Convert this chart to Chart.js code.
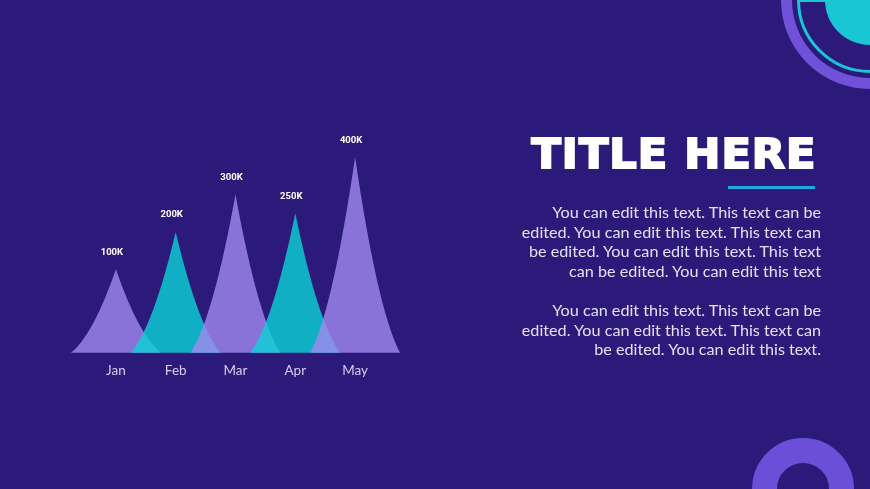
<!DOCTYPE html>
<html>
<head>
<meta charset="utf-8">
<script src="https://cdn.jsdelivr.net/npm/chart.js@4"></script>
<style>
  body { margin: 0; }
  #slide { position: relative; width: 870px; height: 489px; overflow: hidden; background: #2c1a7a; font-family: Lato, "Open Sans", sans-serif; }
  #chartBox { position: absolute; left: 0; top: 0; width: 870px; height: 489px; }
  .ring { position: absolute; border-radius: 50%; box-sizing: border-box; }
  #title { position: absolute; right: 54px; top: 134px; color: #fff; font-family: "DejaVu Sans", sans-serif; font-size: 41px; font-weight: bold; line-height: 41px; letter-spacing: 1px; white-space: nowrap; -webkit-text-stroke: 2px #fff; transform-origin: right center; transform: scaleX(1.05); }
  #rule { position: absolute; left: 728px; top: 186px; width: 87px; height: 3px; background: #1ea9e0; }
  .body { position: absolute; right: 49px; color: #e4e0f6; font-size: 16.2px; line-height: 19.5px; text-align: right; white-space: nowrap; }
</style>
</head>
<body>
<div id="slide">
  <!-- corner shapes -->
  <div class="ring" style="left:781px;top:-89px;width:178px;height:178px;border:11px solid #6f52d9"></div>
  <div class="ring" style="left:797px;top:-73px;width:146px;height:146px;border:3px solid #19c6d4"></div>
  <div style="position:absolute;left:798px;top:0;width:28px;height:2px;background:#19c6d4"></div>
  <div class="ring" style="left:825px;top:-45px;width:90px;height:90px;background:#19c6d4"></div>
  <div class="ring" style="left:752px;top:438px;width:102px;height:102px;border:25px solid #6b4fd8"></div>

  <div id="chartBox"><canvas id="myChart"></canvas></div>

  <div id="title">TITLE HERE</div>
  <div id="rule"></div>
  <div class="body" style="top:202px">You can edit this text. This text can be<br>edited. You can edit this text. This text can<br>be edited. You can edit this text. This text<br>can be edited. You can edit this text</div>
  <div class="body" style="top:300px">You can edit this text. This text can be<br>edited. You can edit this text. This text can<br>be edited. You can edit this text.</div>
</div>
<script>
const months = ['Jan', 'Feb', 'Mar', 'Apr', 'May'];
const sales = [100000, 200000, 300000, 250000, 400000];

// the spikes grow from below zero so the small ones still read as spikes
const yFloor = -124000;
const yCeil = 473000;

// spike colours, alternating lavender / teal, see-through where they overlap
const spikeFill = ['rgba(163,138,240,0.8)', 'rgba(10,212,215,0.8)', 'rgba(163,138,240,0.8)', 'rgba(10,212,215,0.8)', 'rgba(163,138,240,0.8)'];

// draw each bar as a spike with slightly hollow sides, wider than its slot
const spikes = {
    id: 'spikes',
    afterDatasetsDraw(chart) {
        const ctx = chart.ctx;
        const meta = chart.getDatasetMeta(0);
        ctx.save();
        meta.data.forEach(function (bar, i) {
            const half = bar.width * 0.75;
            const h = bar.base - bar.y;
            ctx.beginPath();
            ctx.moveTo(bar.x - half, bar.base);
            ctx.quadraticCurveTo(bar.x - half * 0.5, bar.base - h * 0.22, bar.x, bar.y);
            ctx.quadraticCurveTo(bar.x + half * 0.5, bar.base - h * 0.22, bar.x + half, bar.base);
            ctx.closePath();
            ctx.fillStyle = spikeFill[i];
            ctx.fill();
        });
        // value labels above the tips
        ctx.fillStyle = '#ffffff';
        ctx.font = 'bold 9.5px Roboto';
        ctx.textAlign = 'center';
        ctx.textBaseline = 'middle';
        meta.data.forEach(function (bar, i) {
            const v = chart.data.datasets[0].data[i];
            ctx.fillText((v / 1000) + 'K', bar.x - 4, bar.y - 17);
        });
        ctx.restore();
    }
};

const ctx = document.getElementById('myChart').getContext('2d');
new Chart(ctx, {
    type: 'bar',
    data: {
        labels: months,
        datasets: [{
            data: sales,
            base: yFloor,
            backgroundColor: 'transparent',
            barPercentage: 1,
            categoryPercentage: 1
        }]
    },
    options: {
        responsive: true,
        maintainAspectRatio: false,
        animation: false,
        layout: { padding: { left: 86, right: 485, top: 130, bottom: 100 } },
        plugins: {
            legend: { display: false },
            tooltip: { enabled: false }
        },
        scales: {
            x: {
                offset: true,
                grid: { display: false, drawTicks: false },
                border: { display: false },
                ticks: { color: '#d6d0f0', font: { family: 'Lato', size: 13.5 }, padding: 10 }
            },
            y: {
                display: false,
                min: yFloor,
                max: yCeil
            }
        }
    },
    plugins: [spikes]
});
</script>
</body>
</html>
